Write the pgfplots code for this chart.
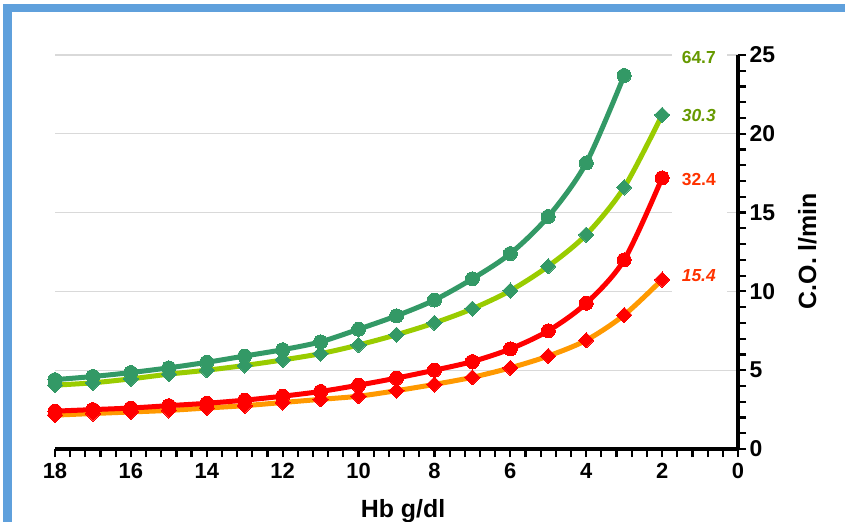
\documentclass[border=0pt]{standalone}
\usepackage{fontspec}
\setmainfont{Liberation Sans}
\usepackage{pgfplots}
\pgfplotsset{compat=1.18}
\definecolor{frameblue}{HTML}{5FA0DC}
\definecolor{cogreen}{HTML}{339966}
\definecolor{colime}{HTML}{99CC00}
\definecolor{cored}{HTML}{FF0000}
\definecolor{coorange}{HTML}{FF9900}
\definecolor{lblgreen}{HTML}{669900}
\definecolor{lblred}{HTML}{FF3300}

\begin{document}
\begin{tikzpicture}
\useasboundingbox (0,0) rectangle (845bp,522bp);
% light blue frame, left and top edges
\fill[frameblue] (3bp,0) rectangle (12bp,518bp);
\fill[frameblue] (3bp,510bp) rectangle (845bp,518bp);

\begin{axis}[
  at={(55bp,73bp)}, anchor=south west,
  scale only axis, width=683bp, height=394bp,
  xmin=0, xmax=18, ymin=0, ymax=25,
  x dir=reverse,
  axis x line*=bottom, axis y line*=right,
  axis line style={line width=3bp, -},
  xtick={0,2,...,18}, ytick={0,5,...,25},
  minor x tick num=4, minor y tick num=4,
  tick align=outside,
  major tick length=8bp, minor tick length=8bp,
  every tick/.style={black, line width=2.2bp},
  ymajorgrids,
  grid style={line width=1.2bp, color=black!15},
  /pgf/number format/assume math mode=true,
  xticklabel style={font=\bfseries\fontsize{22}{22}\selectfont, yshift=-3bp},
  yticklabel style={font=\bfseries\fontsize{23}{23}\selectfont},
  clip=false,
  dmark/.style={mark=square*, mark size=5.4bp, mark options={rotate=45, fill=#1, draw=#1, line width=0pt}},
  cmark/.style={mark=*, mark size=7bp, mark options={fill=#1, draw=#1, line width=0pt}},
]
\fill[white] (axis cs:1.74,24.8) rectangle (axis cs:0.29,25.2);
\fill[white] (axis cs:1.74,14.8) rectangle (axis cs:0.29,15.2);
\fill[white] (axis cs:1.74,9.8) rectangle (axis cs:0.29,10.2);

% orange line, red diamonds
\addplot[color=coorange, line width=5bp, smooth, dmark=cored] coordinates {
  (18,2.15) (17,2.25) (16,2.35) (15,2.45) (14,2.6) (13,2.75) (12,2.95) (11,3.15)
  (10,3.35) (9,3.7) (8,4.1) (7,4.55) (6,5.15) (5,5.9) (4,6.9) (3,8.5) (2,10.75)
};
% red line, red circles
\addplot[color=cored, line width=5bp, smooth, cmark=cored] coordinates {
  (18,2.4) (17,2.5) (16,2.6) (15,2.75) (14,2.9) (13,3.1) (12,3.35) (11,3.65)
  (10,4.05) (9,4.5) (8,5.0) (7,5.55) (6,6.35) (5,7.5) (4,9.25) (3,12.0) (2,17.2)
};
% lime line, green diamonds
\addplot[color=colime, line width=5bp, smooth, dmark=cogreen] coordinates {
  (18,4.05) (17,4.2) (16,4.45) (15,4.75) (14,5.0) (13,5.3) (12,5.65) (11,6.05)
  (10,6.6) (9,7.25) (8,8.0) (7,8.9) (6,10.05) (5,11.6) (4,13.6) (3,16.6) (2,21.2)
};
% green line, green circles
\addplot[color=cogreen, line width=5bp, smooth, cmark=cogreen] coordinates {
  (18,4.4) (17,4.6) (16,4.85) (15,5.15) (14,5.5) (13,5.9) (12,6.3) (11,6.8)
  (10,7.6) (9,8.45) (8,9.45) (7,10.8) (6,12.4) (5,14.75) (4,18.15) (3,23.7)
};

\node[anchor=east, text=lblgreen, font=\bfseries\fontsize{17.5}{17.5}\selectfont, inner sep=0pt] at (axis cs:0.58,24.87) {64.7};
\node[anchor=east, text=lblgreen, font=\bfseries\itshape\fontsize{17.5}{17.5}\selectfont, inner sep=0pt] at (axis cs:0.58,21.19) {30.3};
\node[anchor=east, text=lblred, font=\bfseries\fontsize{17.5}{17.5}\selectfont, inner sep=0pt] at (axis cs:0.58,17.13) {32.4};
\node[anchor=east, text=lblred, font=\bfseries\itshape\fontsize{17.5}{17.5}\selectfont, inner sep=0pt] at (axis cs:0.58,10.98) {15.4};
\end{axis}

\node[anchor=base, font=\bfseries\fontsize{25}{25}\selectfont] at (403bp,5bp) {Hb g/dl};
\node[anchor=base, rotate=90, font=\bfseries\fontsize{25}{25}\selectfont] at (816bp,271bp) {C.O. l/min};
\end{tikzpicture}
\end{document}
